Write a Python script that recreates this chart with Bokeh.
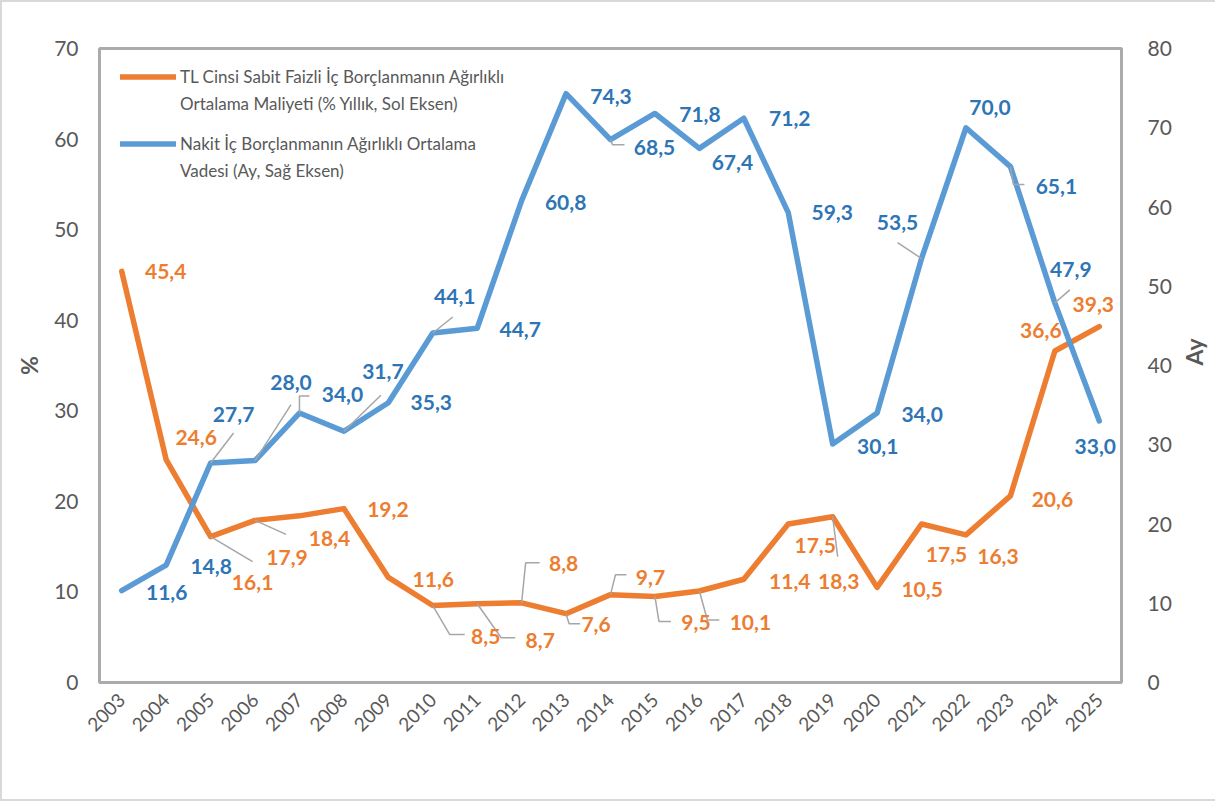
import math
from bokeh.plotting import figure
from bokeh.models import (Range1d, LinearAxis, FixedTicker, Legend,
                          LegendItem, ColumnDataSource)
from bokeh.core.properties import value
from bokeh.embed import file_html
from bokeh.resources import INLINE

# ---------------- data ----------------
years = list(range(2003, 2026))
year_labels = [str(y) for y in years]
cost_pct = [45.4, 24.6, 16.1, 17.9, 18.4, 19.2, 11.6, 8.5, 8.7, 8.8, 7.6, 9.7,
            9.5, 10.1, 11.4, 17.5, 18.3, 10.5, 17.5, 16.3, 20.6, 36.6, 39.3]
maturity_months = [11.6, 14.8, 27.7, 28.0, 34.0, 31.7, 35.3, 44.1, 44.7, 60.8,
                   74.3, 68.5, 71.8, 67.4, 71.2, 59.3, 30.1, 34.0, 53.5, 70.0,
                   65.1, 47.9, 33.0]
left_ticks = [0, 10, 20, 30, 40, 50, 60, 70]
right_ticks = [0, 10, 20, 30, 40, 50, 60, 70, 80]
cost_name = ["TL Cinsi Sabit Faizli İç Borçlanmanın Ağırlıklı",
             "Ortalama Maliyeti (% Yıllık, Sol Eksen)"]
maturity_name = ["Nakit İç Borçlanmanın Ağırlıklı Ortalama",
                 "Vadesi (Ay, Sağ Eksen)"]
left_title = "%"
right_title = "Ay"

# ---------------- label placement (pixels) ----------------
orange_dx = [44, 30, 42, 32, 30, 44, 45, 53, 63, 42, 30, 40, 41, 51, 46, 27, 6, 45, 25, 32, 42, -14, -6]
orange_dy = [0, -22, 46, 37, 23, 1, 2, 31, 37, -39, 11, -17, 26, 31, 2, 21, 65, 2, 30, 22, 4, -21, -22]
blue_dx = [45, 45, 23, 36, 43, 39, 43, 22, 43, 44, 45, 44, 45, 33, 46, 44, 45, 45, -24, 24, 46, 16, -4]
blue_dy = [2, 1, -48, -78, -19, -60, 0, -37, 1, 2, 3, 8, 1, 14, 0, 0, 3, 1, -36, -20, 20, -33, 26]

orange_leaders = [(2005, [(0, 0), (42, 25)]), (2006, [(0, 0), (31, 14)]),
                  (2010, [(0, 0), (17, 29), (32, 29)]), (2011, [(0, 0), (24, 34), (38, 34)]),
                  (2012, [(0, 0), (4, -40), (18, -40)]), (2013, [(0, 0), (3, 10), (14, 10)]),
                  (2014, [(0, 0), (5, -20), (16, -20)]), (2015, [(0, 0), (4, 25), (16, 25)]),
                  (2016, [(0, 0), (8, 29), (20, 29)]), (2019, [(0, 0), (5, 40)])]
blue_leaders = [(2005, [(0, 0), (23, -30)]), (2006, [(0, 0), (36, -56)]),
                (2007, [(0, 0), (0, -17), (10, -17)]), (2008, [(0, 0), (37, -36)]),
                (2010, [(0, 0), (20, -16)]), (2014, [(0, 0), (2, 5), (14, 5)]),
                (2021, [(0, 0), (-24, -16)]), (2023, [(0, 0), (3, 18), (14, 18)]),
                (2024, [(0, 0), (15, -13)])]

FONT = "Lato"
ORANGE = "#ED7D31"
BLUE = "#5B9BD5"
BLUE_TXT = "#2E75B6"
GRAY_TXT = "#595959"
LEADER = "#A6A6A6"

FW, FH = 1022, 634
PX_X = FW / (len(years))
PX_L = FH / 70.0
PX_R = FH / 80.0

p = figure(frame_width=FW, frame_height=FH,
           min_border_left=97, min_border_right=80, min_border_top=46, min_border_bottom=117,
           x_range=Range1d(years[0] - 0.5, years[-1] + 0.5), y_range=Range1d(0, 70),
           output_backend="svg", toolbar_location=None,
           background_fill_color="white", border_fill_color="white",
           styles={"border": "2px solid #D9D9D9"})
p.extra_y_ranges = {"right": Range1d(0, 80)}
p.add_layout(LinearAxis(y_range_name="right"), "right")

p.grid.visible = False
p.outline_line_color = "#ABABAB"
p.outline_line_width = 3

for ax in p.axis:
    ax.axis_line_color = None
    ax.major_tick_line_color = None
    ax.minor_tick_line_color = None
    ax.major_label_text_font = FONT
    ax.major_label_text_color = GRAY_TXT
    ax.major_label_text_font_size = "21px"
    ax.axis_label_text_font = FONT
    ax.axis_label_text_font_size = "23px"
    ax.axis_label_text_font_style = "bold"
    ax.axis_label_text_color = GRAY_TXT

p.yaxis[0].ticker = FixedTicker(ticks=left_ticks)
p.yaxis[0].major_label_standoff = 15
p.yaxis[0].axis_label = left_title
p.yaxis[0].axis_label_standoff = 8
p.yaxis[1].ticker = FixedTicker(ticks=right_ticks)
p.yaxis[1].major_label_standoff = 20
p.yaxis[1].axis_label = right_title
p.yaxis[1].axis_label_standoff = 19
try:
    p.yaxis[1].axis_label_orientation = math.pi / 2
except Exception:
    pass
p.xaxis.ticker = FixedTicker(ticks=years)
p.xaxis.major_label_overrides = {y: s for y, s in zip(years, year_labels)}
p.xaxis.major_label_orientation = math.pi / 4
p.xaxis.major_label_standoff = 8
p.xaxis.major_label_text_font_size = "19px"

r1 = p.line(years, cost_pct, line_color=ORANGE, line_width=5.5,
            line_cap="round", line_join="round")
r2 = p.line(years, maturity_months, y_range_name="right", line_color=BLUE,
            line_width=5.5, line_cap="round", line_join="round")
r_blank = p.line([], [], line_alpha=0)


def leader_paths(defs, vals, ppu):
    xs, ys = [], []
    for yr, path in defs:
        i = years.index(yr)
        xs.append([years[i] + dx / PX_X for dx, dy in path])
        ys.append([vals[i] - dy / ppu for dx, dy in path])
    return xs, ys


oxs, oys = leader_paths(orange_leaders, cost_pct, PX_L)
bxs, bys = leader_paths(blue_leaders, maturity_months, PX_R)
p.multi_line(oxs, oys, line_color=LEADER, line_width=1.5)
p.multi_line(bxs, bys, line_color=LEADER, line_width=1.5, y_range_name="right")


def fmt(v):
    return f"{v:.1f}".replace(".", ",")


osrc = ColumnDataSource(dict(x=years, y=cost_pct, t=[fmt(v) for v in cost_pct],
                             dx=orange_dx, dy=orange_dy))
bsrc = ColumnDataSource(dict(x=years, y=maturity_months, t=[fmt(v) for v in maturity_months],
                             dx=blue_dx, dy=blue_dy))
p.text(x="x", y="y", text="t", x_offset="dx", y_offset="dy", source=osrc,
       text_font=value(FONT), text_font_style="bold", text_font_size="21px",
       text_color=ORANGE, text_align="center", text_baseline="middle")
p.text(x="x", y="y", text="t", x_offset="dx", y_offset="dy", source=bsrc,
       y_range_name="right",
       text_font=value(FONT), text_font_style="bold", text_font_size="21px",
       text_color=BLUE_TXT, text_align="center", text_baseline="middle")


def make_legend(renderer, lines, top_offset):
    items = [LegendItem(label=lines[0], renderers=[renderer]),
             LegendItem(label=lines[1], renderers=[r_blank])]
    h = 27 * len(lines)
    return Legend(items=items, location=(21, FH - top_offset - h),
                  margin=0, padding=0, spacing=0,
                  glyph_width=56, glyph_height=27, label_height=27,
                  label_standoff=4,
                  label_text_font=FONT, label_text_font_size="17px",
                  label_text_color=GRAY_TXT,
                  border_line_color=None, background_fill_alpha=0)


p.add_layout(make_legend(r1, cost_name, 14.5))
p.add_layout(make_legend(r2, maturity_name, 81.5))

open("out.html", "w").write(file_html(p, INLINE))
